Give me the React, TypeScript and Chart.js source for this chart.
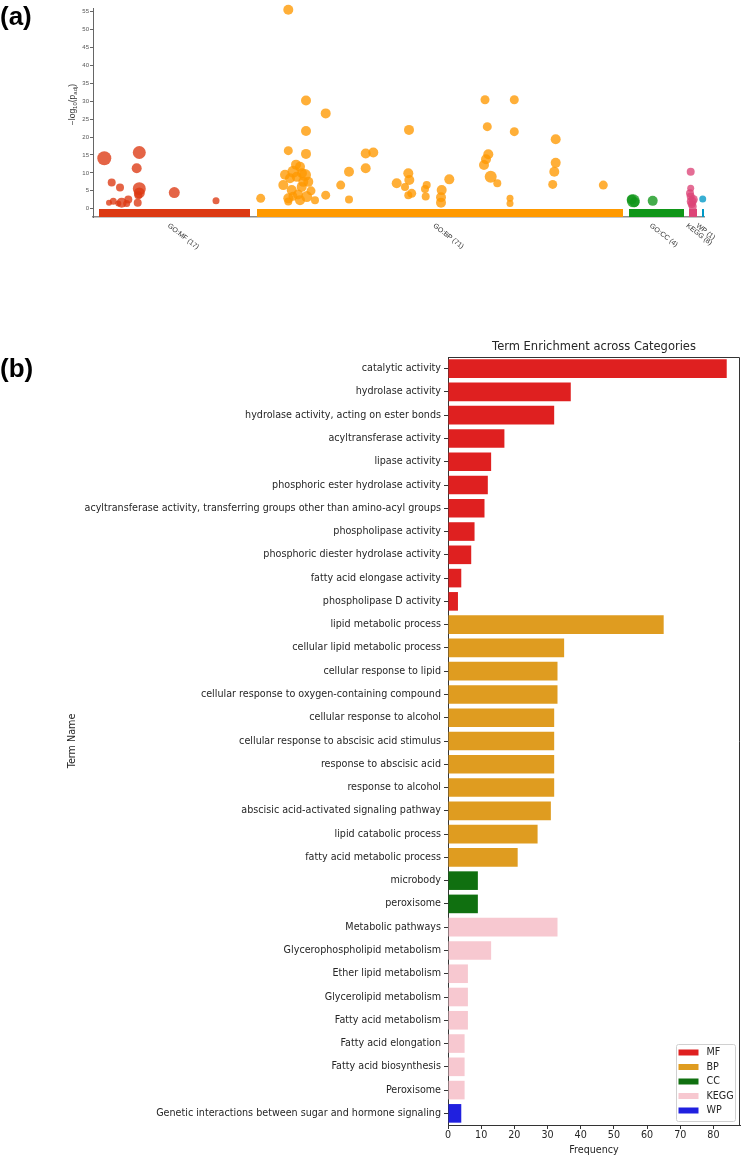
import React, { useEffect, useRef } from "react";
import { Chart, registerables } from "chart.js";
Chart.register(...registerables);

// ---------------- Panel (a): Manhattan plot data ----------------
const sourceLabels = ["GO:MF (17)", "GO:BP (71)", "GO:CC (4)", "KEGG (8)", "WP (1)"];
const sourceColors = ["#dc3912", "#ff9900", "#109618", "#dd4477", "#0099c6"];
const pointColors = [
  "rgba(220,57,18,0.78)",
  "rgba(255,153,0,0.78)",
  "rgba(16,150,24,0.78)",
  "rgba(221,68,119,0.78)",
  "rgba(0,153,198,0.78)",
];
const bandStart = [6, 164, 536, 596, 609];
const bandEnd = [157, 530, 591, 604, 611];

const mfX = [11.3, 46.3, 43.7, 18.7, 27, 46.3, 46.3, 81.3, 123, 16, 20.3, 28.7, 35.3, 33.7, 44.7, 45.3, 25.3];
const mfY = [14.1, 15.7, 11.3, 7.3, 5.9, 5.6, 4.4, 4.5, 2.2, 1.7, 2.1, 1.7, 2.6, 1.5, 1.7, 3.8, 1.5];
const mfR = [7, 6.5, 5, 4, 4, 6.5, 5.5, 5.5, 3.5, 3, 3.5, 5, 4, 3.5, 4, 4, 3];

const bpX = [195.3, 213, 232.7, 213, 195.3, 213, 167.7, 200.3, 207, 212, 215.3, 197, 190.3, 198.7, 208.7, 195.3, 195.3, 207, 213.7, 222, 232.7, 203.7, 210.3, 247.7, 256, 256, 272.7, 272.7, 280.3, 316, 303.7, 315.3, 316.3, 318.7, 312, 315.3, 333.7, 332.7, 348.7, 348, 356.3, 392, 394.3, 395.3, 393, 391, 397.7, 404.3, 417, 417, 421.3, 421.3, 462.7, 462.7, 461.3, 459.7, 510.3, 205, 218, 192, 200, 209, 203, 332, 348];
const bpY = [55.5, 30.2, 26.6, 21.7, 16.2, 15.3, 2.9, 10.3, 11.7, 9.4, 7.5, 8.5, 6.6, 5.2, 6.1, 2.9, 2.0, 2.4, 3.4, 2.4, 3.8, 8.9, 7.5, 6.6, 10.3, 2.6, 11.3, 15.4, 15.7, 22.0, 7.1, 9.9, 8.0, 4.3, 6.1, 3.8, 6.6, 3.4, 5.2, 1.7, 8.2, 30.4, 22.9, 15.2, 13.8, 12.2, 8.9, 7.1, 2.9, 1.5, 30.4, 21.5, 19.4, 12.8, 10.3, 6.8, 6.6, 4.0, 5.0, 9.5, 3.5, 9.9, 12.3, 5.5, 3.2];
const bpR = [5, 5, 5, 5, 4.5, 5, 4.5, 6, 5, 6, 5, 5, 5, 5, 5, 5, 4, 5, 5.5, 4, 4.5, 5, 5, 4.5, 5, 4, 5, 5, 5, 5, 5, 5, 5, 4.5, 4, 4, 4, 4, 5, 5, 5, 4.5, 4.5, 5, 5, 5, 6, 4, 3.5, 3.5, 4.5, 4.5, 5, 5, 5, 4.5, 4.5, 5, 4.5, 5, 4.5, 5, 5, 4, 5];

const ccX = [540.3, 538.7, 541.5, 559.7];
const ccY = [2.2, 2.6, 1.8, 2.2];
const ccR = [6.5, 5, 5, 5];

const keggX = [597.7, 597.7, 597.7, 598.7, 599.7, 597, 600.3, 598.7];
const keggY = [10.3, 5.7, 3.4, 2.0, 0.6, 4.3, 2.6, 1.3];
const keggR = [4, 3.5, 4, 5, 4, 4, 4.5, 4];

const wpX = [609.7];
const wpY = [2.7];
const wpR = [3.5];

const yTicksA = [0, 5, 10, 15, 20, 25, 30, 35, 40, 45, 50, 55];

// ---------------- Panel (b): bar chart data ----------------
const mfTerms = [
  "catalytic activity",
  "hydrolase activity",
  "hydrolase activity, acting on ester bonds",
  "acyltransferase activity",
  "lipase activity",
  "phosphoric ester hydrolase activity",
  "acyltransferase activity, transferring groups other than amino-acyl groups",
  "phospholipase activity",
  "phosphoric diester hydrolase activity",
  "fatty acid elongase activity",
  "phospholipase D activity",
];
const mfFreq = [84, 37, 32, 17, 13, 12, 11, 8, 7, 4, 3];
const bpTerms = [
  "lipid metabolic process",
  "cellular lipid metabolic process",
  "cellular response to lipid",
  "cellular response to oxygen-containing compound",
  "cellular response to alcohol",
  "cellular response to abscisic acid stimulus",
  "response to abscisic acid",
  "response to alcohol",
  "abscisic acid-activated signaling pathway",
  "lipid catabolic process",
  "fatty acid metabolic process",
];
const bpFreq = [65, 35, 33, 33, 32, 32, 32, 32, 31, 27, 21];
const ccTerms = ["microbody", "peroxisome"];
const ccFreq = [9, 9];
const keggTerms = [
  "Metabolic pathways",
  "Glycerophospholipid metabolism",
  "Ether lipid metabolism",
  "Glycerolipid metabolism",
  "Fatty acid metabolism",
  "Fatty acid elongation",
  "Fatty acid biosynthesis",
  "Peroxisome",
];
const keggFreq = [33, 13, 6, 6, 6, 5, 5, 5];
const wpTerms = ["Genetic interactions between sugar and hormone signaling"];
const wpFreq = [4];

const groupNames = ["MF", "BP", "CC", "KEGG", "WP"];
const groupColors = ["#df2020", "#df9c20", "#107010", "#f7c8d0", "#2020df"];
const xTicksB = [0, 10, 20, 30, 40, 50, 60, 70, 80];

const SANS_A = '"Liberation Sans", Arial, sans-serif';
const SANS_B = '"DejaVu Sans", sans-serif';
const FS_B = 9.6;

function toPts(xs: number[], ys: number[]) {
  return xs.map((x, i) => ({ x, y: ys[i] }));
}

const panelAText = {
  id: "panelAText",
  afterDraw(chart: any) {
    const { ctx } = chart;
    const xs = chart.scales.x;
    const area = chart.chartArea;
    ctx.save();
    ctx.fillStyle = "#333";
    ctx.font = `7px ${SANS_A}`;
    ctx.textAlign = "left";
    ctx.textBaseline = "middle";
    sourceLabels.forEach((lab, i) => {
      const cx = xs.getPixelForValue((bandStart[i] + bandEnd[i]) / 2);
      ctx.save();
      ctx.translate(cx - 6, area.bottom + 8);
      ctx.rotate((38 * Math.PI) / 180);
      ctx.fillText(lab, 0, 0);
      ctx.restore();
    });
    // y-axis title: −log10(p_adj)
    const parts: [string, number, number][] = [
      ["\u2212log", 8.5, 0],
      ["10", 6, 2],
      ["(p", 8.5, 0],
      ["adj", 6, 2],
      [")", 8.5, 0],
    ];
    let total = 0;
    parts.forEach(([t, s]) => {
      ctx.font = `${s}px ${SANS_A}`;
      total += ctx.measureText(t).width;
    });
    ctx.save();
    ctx.translate(73, (area.top + area.bottom) / 2 - 8);
    ctx.rotate(-Math.PI / 2);
    let px = -total / 2;
    ctx.textAlign = "left";
    parts.forEach(([t, s, dy]) => {
      ctx.font = `${s}px ${SANS_A}`;
      ctx.fillText(t, px, dy);
      px += ctx.measureText(t).width;
    });
    ctx.restore();
    ctx.restore();
  },
};

const panelBDeco = {
  id: "panelBDeco",
  afterDraw(chart: any) {
    const { ctx } = chart;
    const a = chart.chartArea;
    ctx.save();
    // frame (top & right spines)
    ctx.strokeStyle = "#333";
    ctx.lineWidth = 1;
    ctx.beginPath();
    ctx.moveTo(a.left, a.top + 0.5);
    ctx.lineTo(a.right - 0.5, a.top + 0.5);
    ctx.lineTo(a.right - 0.5, a.bottom);
    ctx.stroke();
    // title
    ctx.fillStyle = "#262626";
    ctx.font = `11.5px ${SANS_B}`;
    ctx.textAlign = "center";
    ctx.textBaseline = "middle";
    ctx.fillText("Term Enrichment across Categories", (a.left + a.right) / 2, a.top - 10);
    // y title
    ctx.save();
    ctx.translate(72, (a.top + a.bottom) / 2);
    ctx.rotate(-Math.PI / 2);
    ctx.font = `${FS_B}px ${SANS_B}`;
    ctx.fillText("Term Name", 0, 0);
    ctx.restore();
    // legend
    const lw = 59, lh = 77;
    const lx = a.right - 5 - lw, ly = a.bottom - 4 - lh;
    ctx.fillStyle = "rgba(255,255,255,0.85)";
    ctx.strokeStyle = "#d0d0d0";
    ctx.beginPath();
    ctx.roundRect(lx + 0.5, ly + 0.5, lw, lh, 2);
    ctx.fill();
    ctx.stroke();
    ctx.font = `${FS_B}px ${SANS_B}`;
    ctx.textAlign = "left";
    groupNames.forEach((g, i) => {
      const cy = ly + 8.5 + i * 14.5;
      ctx.fillStyle = groupColors[i];
      ctx.fillRect(lx + 2.5, cy - 3, 20, 6);
      ctx.fillStyle = "#262626";
      ctx.fillText(g, lx + 30.5, cy);
    });
    ctx.restore();
  },
};

export default function App() {
  const refA = useRef<HTMLCanvasElement>(null);
  const refB = useRef<HTMLCanvasElement>(null);

  useEffect(() => {
    const groupsX = [mfX, bpX, ccX, keggX, wpX];
    const groupsY = [mfY, bpY, ccY, keggY, wpY];
    const groupsR = [mfR, bpR, ccR, keggR, wpR];
    const pointSets = groupsX.map((xs, i) => ({
      type: "scatter" as const,
      data: toPts(xs, groupsY[i]),
      pointRadius: groupsR[i],
      pointHoverRadius: groupsR[i],
      backgroundColor: pointColors[i],
      borderWidth: 0,
      clip: false as any,
      order: 1,
    }));
    const bandSets = bandStart.map((s, i) => ({
      type: "line" as const,
      data: [
        { x: s, y: -1.15 },
        { x: bandEnd[i], y: -1.15 },
      ],
      borderColor: sourceColors[i],
      borderWidth: 8,
      borderCapStyle: "butt" as const,
      pointRadius: 0,
      clip: false as any,
      order: 2,
    }));

    const chartA = new Chart(refA.current!, {
      type: "scatter",
      data: { datasets: [...pointSets, ...bandSets] as any },
      options: {
        animation: false,
        responsive: false,
        devicePixelRatio: 1,
        layout: { padding: { top: 8, right: 40, left: 0, bottom: 0 } },
        plugins: { legend: { display: false }, tooltip: { enabled: false } },
        scales: {
          x: {
            type: "linear",
            min: 0,
            max: 611,
            ticks: { display: false },
            grid: { display: false },
            border: { display: true, color: "#8c8c8c", width: 1.5 },
            afterFit: (s: any) => {
              s.height = 83;
            },
          },
          y: {
            type: "linear",
            min: -2.3,
            max: 56,
            afterBuildTicks: (s: any) => {
              s.ticks = yTicksA.map((v) => ({ value: v }));
            },
            ticks: {
              font: { size: 6, family: SANS_A },
              color: "#555",
              padding: 1,
            },
            grid: { drawOnChartArea: false, drawTicks: true, tickLength: 3, color: "#666" },
            border: { display: true, color: "#666", width: 1 },
            afterFit: (s: any) => {
              s.width = 93;
            },
          },
        } as any,
      },
      plugins: [panelAText],
    });

    const terms = [...mfTerms, ...bpTerms, ...ccTerms, ...keggTerms, ...wpTerms];
    const freq = [...mfFreq, ...bpFreq, ...ccFreq, ...keggFreq, ...wpFreq];
    const colors = [
      ...mfTerms.map(() => groupColors[0]),
      ...bpTerms.map(() => groupColors[1]),
      ...ccTerms.map(() => groupColors[2]),
      ...keggTerms.map(() => groupColors[3]),
      ...wpTerms.map(() => groupColors[4]),
    ];

    const chartB = new Chart(refB.current!, {
      type: "bar",
      data: {
        labels: terms,
        datasets: [
          {
            data: freq,
            backgroundColor: colors,
            borderWidth: 0,
            categoryPercentage: 0.8,
            barPercentage: 1.0,
          },
        ],
      },
      options: {
        indexAxis: "y",
        animation: false,
        responsive: false,
        devicePixelRatio: 1,
        layout: { padding: { top: 57, right: 4, left: 0, bottom: 0 } },
        plugins: { legend: { display: false }, tooltip: { enabled: false } },
        scales: {
          x: {
            type: "linear",
            min: 0,
            max: 88,
            afterBuildTicks: (s: any) => {
              s.ticks = xTicksB.map((v) => ({ value: v }));
            },
            ticks: { font: { size: FS_B, family: SANS_B }, color: "#262626", padding: 1 },
            grid: { drawOnChartArea: false, drawTicks: true, tickLength: 4, color: "#333" },
            border: { display: true, color: "#333", width: 1 },
            title: {
              display: true,
              text: "Frequency",
              font: { size: FS_B, family: SANS_B },
              color: "#262626",
              padding: { top: 0, bottom: 1 },
            },
            afterFit: (s: any) => {
              s.height = 32;
            },
          },
          y: {
            type: "category",
            ticks: {
              autoSkip: false,
              font: { size: FS_B, family: SANS_B },
              color: "#262626",
              padding: 3,
            },
            grid: { offset: false, drawOnChartArea: false, drawTicks: true, tickLength: 4, color: "#333" },
            border: { display: true, color: "#333", width: 1 },
            afterFit: (s: any) => {
              s.width = 448;
            },
          },
        } as any,
      },
      plugins: [panelBDeco],
    });

    return () => {
      chartA.destroy();
      chartB.destroy();
    };
  }, []);

  const labelStyle: React.CSSProperties = {
    position: "absolute",
    left: 0,
    fontFamily: SANS_A,
    fontWeight: "bold",
    fontSize: 26,
    lineHeight: "26px",
    color: "#000",
  };

  return (
    <div style={{ position: "absolute", left: 0, top: 0, width: 744, height: 1157, background: "#fff" }}>
      <canvas ref={refA} width={744} height={300} style={{ position: "absolute", left: 0, top: 0 }} />
      <canvas ref={refB} width={744} height={857} style={{ position: "absolute", left: 0, top: 300 }} />
      <div style={{ ...labelStyle, top: 3 }}>(a)</div>
      <div style={{ ...labelStyle, top: 355 }}>(b)</div>
    </div>
  );
}
